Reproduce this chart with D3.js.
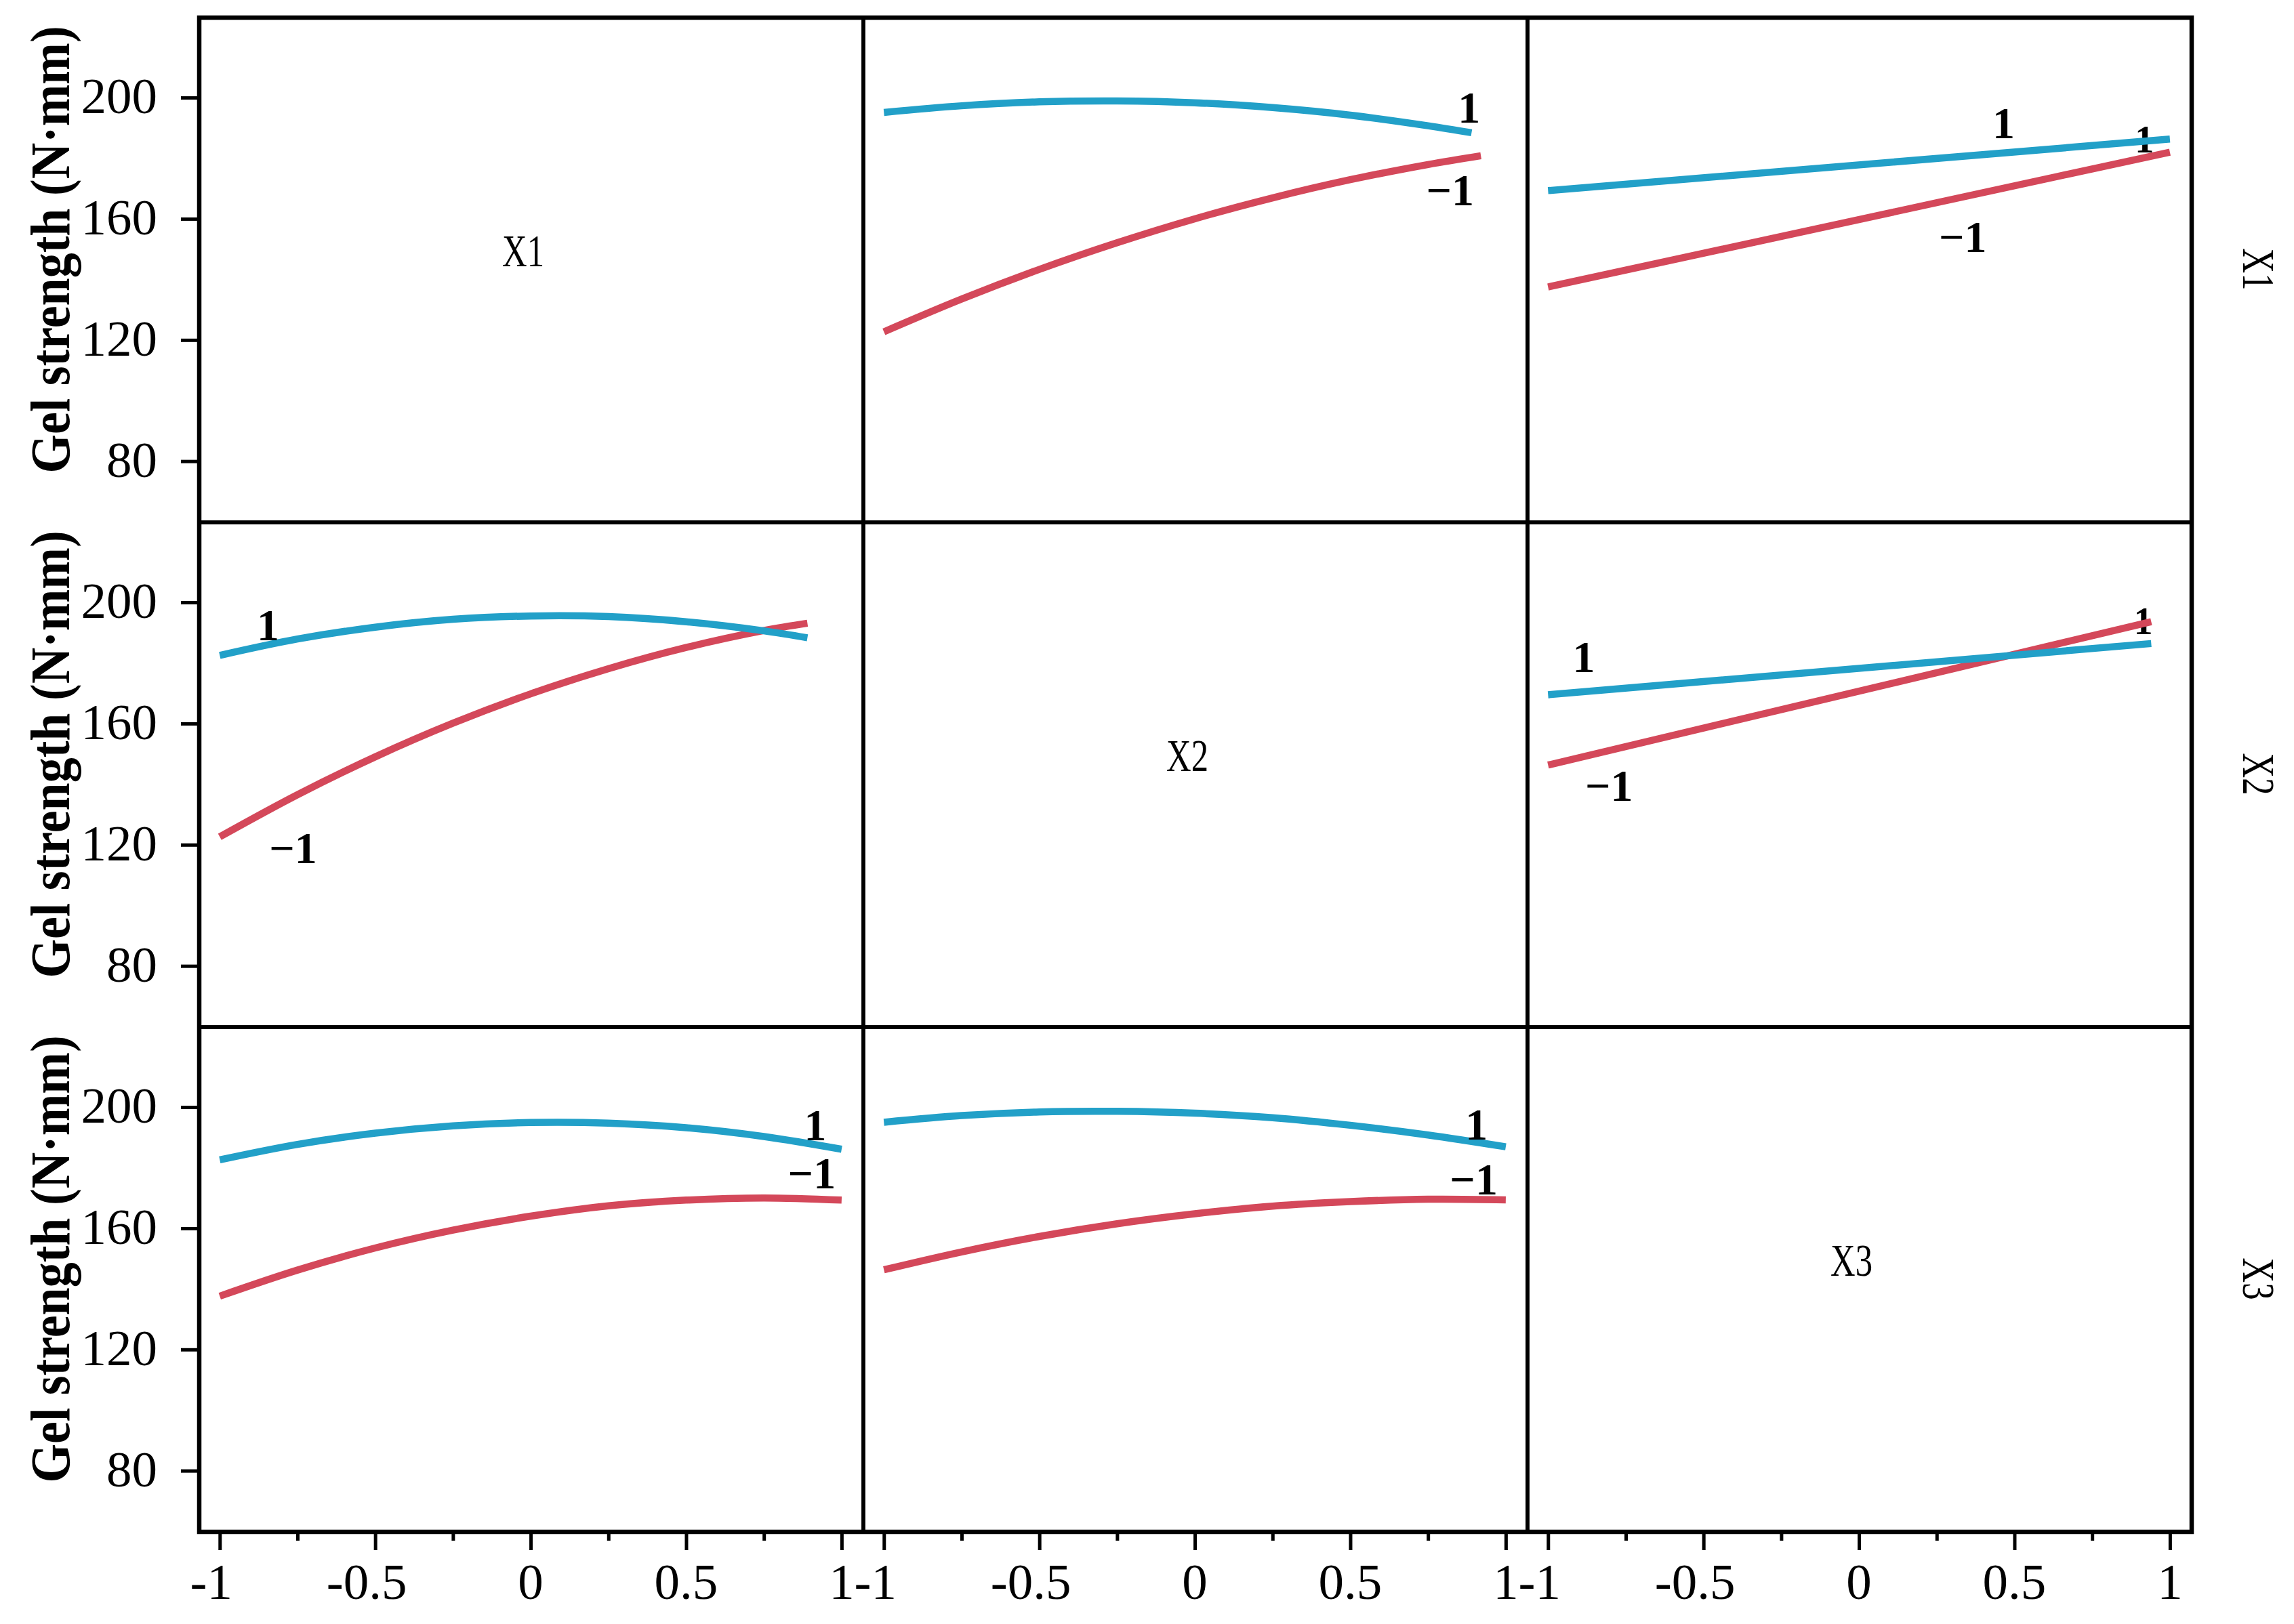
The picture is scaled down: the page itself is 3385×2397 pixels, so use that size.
<!DOCTYPE html>
<html><head><meta charset="utf-8">
<script src="https://cdn.jsdelivr.net/npm/d3@7"></script>
<style>body{margin:0;background:#fff}</style>
</head><body><svg id="c" width="3385" height="2397"></svg>
<script>
// ---------- data ----------
const factors = ["X1", "X2", "X3"];
const yTitle = "Gel strength (N\u00b7mm)";
const xTicks = [-1, -0.5, 0, 0.5, 1];
const xMinorTicks = [-0.75, -0.25, 0.25, 0.75];
const yTicks = [80, 120, 160, 200];
const levelLow = "\u22121";
const levelHigh = "1";

// row 0 / col 1
const r0c1LowX  = [-1, -0.75, -0.5, -0.25, 0, 0.25, 0.5, 0.75, 0.92];
const r0c1LowY  = [122.7, 133.5, 143.3, 152.1, 160.0, 166.9, 172.9, 177.9, 180.8];
const r0c1HighX = [-1, -0.75, -0.5, -0.25, 0, 0.25, 0.5, 0.75, 0.89];
const r0c1HighY = [195.1, 197.3, 198.6, 198.9, 198.3, 196.7, 194.2, 190.7, 188.4];
// row 0 / col 2
const r0c2LowX  = [-1, 1];
const r0c2LowY  = [137.5, 182.0];
const r0c2HighX = [-1, 1];
const r0c2HighY = [169.3, 186.3];
// row 1 / col 0
const r1c0LowX  = [-1, -0.75, -0.5, -0.25, 0, 0.25, 0.5, 0.75, 0.89];
const r1c0LowY  = [122.6, 136.5, 149.0, 160.1, 169.8, 178.1, 185.1, 190.7, 193.1];
const r1c0HighX = [-1, -0.75, -0.5, -0.25, 0, 0.25, 0.5, 0.75, 0.89];
const r1c0HighY = [182.5, 187.9, 191.8, 194.4, 195.5, 195.3, 193.6, 190.6, 188.3];
// row 1 / col 2
const r1c2LowX  = [-1, 0.94];
const r1c2LowY  = [146.3, 193.6];
const r1c2HighX = [-1, 0.94];
const r1c2HighY = [169.5, 186.4];
// row 2 / col 0
const r2c0LowX  = [-1, -0.75, -0.5, -0.25, 0, 0.25, 0.5, 0.75, 1];
const r2c0LowY  = [137.6, 146.2, 153.5, 159.4, 164.0, 167.4, 169.3, 170.0, 169.3];
const r2c0HighX = [-1, -0.75, -0.5, -0.25, 0, 0.25, 0.5, 0.75, 1];
const r2c0HighY = [182.6, 187.7, 191.4, 193.8, 194.9, 194.7, 193.2, 190.3, 186.1];
// row 2 / col 1
const r2c1LowX  = [-1, -0.75, -0.5, -0.25, 0, 0.25, 0.5, 0.75, 1];
const r2c1LowY  = [146.3, 152.2, 157.3, 161.5, 164.8, 167.3, 168.8, 169.6, 169.4];
const r2c1HighX = [-1, -0.75, -0.5, -0.25, 0, 0.25, 0.5, 0.75, 1];
const r2c1HighY = [195.0, 197.2, 198.4, 198.6, 198.0, 196.5, 194.0, 190.8, 186.9];

// curve labels in data units
const labelRows  = [0, 0, 0, 0, 1, 1, 1, 1, 2, 2, 2, 2];
const labelCols  = [1, 1, 2, 2, 0, 0, 2, 2, 0, 0, 1, 1];
const labelTexts = [levelHigh, levelLow, levelHigh, levelLow, levelHigh, levelLow, levelHigh, levelLow, levelHigh, levelLow, levelHigh, levelLow];
const labelX     = [0.882, 0.821, 0.465, 0.334, -0.845, -0.764, -0.885, -0.804, 0.915, 0.904, 0.906, 0.897];
const labelY     = [196.7, 169.4, 191.7, 154.1, 192.6, 118.9, 182.1, 139.6, 194.0, 178.3, 194.3, 176.3];
// partly hidden end labels (under the line)
const hiddenRows = [0, 1];
const hiddenCols = [2, 2];
const hiddenX    = [0.918, 0.914];
const hiddenY    = [186.2, 193.8];

// ---------- layout ----------
const W = 3385, H = 2397;
const plotLeft = 294, plotTop = 26, colW = 980, rowH = 745;
const xDomain = [-1.066, 1.07];
const yDomain = [59.8, 226.4];
const BLUE = "#22a0c8", RED = "#d4485a";
const FONT = "'Liberation Serif','Times New Roman',serif";

const svg = d3.select("#c");
svg.append("rect").attr("width", W).attr("height", H).attr("fill", "#fff");

const xs = [0, 1, 2].map(j => d3.scaleLinear().domain(xDomain).range([plotLeft + j * colW, plotLeft + (j + 1) * colW]));
const ys = [0, 1, 2].map(i => d3.scaleLinear().domain(yDomain).range([plotTop + (i + 1) * rowH, plotTop + i * rowH]));

const curves = [
  [0, 1, r0c1LowX, r0c1LowY, RED], [0, 1, r0c1HighX, r0c1HighY, BLUE],
  [0, 2, r0c2LowX, r0c2LowY, RED], [0, 2, r0c2HighX, r0c2HighY, BLUE],
  [1, 0, r1c0LowX, r1c0LowY, RED], [1, 0, r1c0HighX, r1c0HighY, BLUE],
  [1, 2, r1c2LowX, r1c2LowY, RED], [1, 2, r1c2HighX, r1c2HighY, BLUE],
  [2, 0, r2c0LowX, r2c0LowY, RED], [2, 0, r2c0HighX, r2c0HighY, BLUE],
  [2, 1, r2c1LowX, r2c1LowY, RED], [2, 1, r2c1HighX, r2c1HighY, BLUE]
];

// hidden labels first (drawn under lines)
hiddenRows.forEach((r, k) => {
  const c = hiddenCols[k];
  svg.append("text").attr("x", xs[c](hiddenX[k])).attr("y", ys[r](hiddenY[k]))
    .attr("text-anchor", "middle").attr("dominant-baseline", "central")
    .attr("font-family", FONT).attr("font-weight", "bold").attr("font-size", 56)
    .text(levelHigh);
});

// curves
curves.forEach(([r, c, X, Y, col]) => {
  const line = d3.line().x(d => xs[c](d[0])).y(d => ys[r](d[1])).curve(d3.curveCatmullRom.alpha(0.5));
  svg.append("path").attr("d", line(X.map((x, k) => [x, Y[k]])))
    .attr("fill", "none").attr("stroke", col).attr("stroke-width", 10.5).attr("stroke-linecap", "butt");
});

// curve labels
labelRows.forEach((r, k) => {
  const c = labelCols[k];
  svg.append("text").attr("x", xs[c](labelX[k])).attr("y", ys[r](labelY[k]))
    .attr("text-anchor", "middle").attr("dominant-baseline", "central")
    .attr("font-family", FONT).attr("font-weight", "bold").attr("font-size", 66)
    .text(labelTexts[k]);
});

// diagonal labels
factors.forEach((f, i) => {
  svg.append("text").attr("x", (xs[i].range()[0] + xs[i].range()[1]) / 2 - 12)
    .attr("y", (ys[i].range()[0] + ys[i].range()[1]) / 2 - 29)
    .attr("text-anchor", "middle").attr("dominant-baseline", "central")
    .attr("font-family", FONT).attr("font-size", 68)
    .attr("textLength", 62).attr("lengthAdjust", "spacingAndGlyphs")
    .text(f);
});

// right strip labels
factors.forEach((f, i) => {
  const cy = (ys[i].range()[0] + ys[i].range()[1]) / 2 - 1;
  svg.append("text").attr("transform", `translate(3333,${cy}) rotate(90)`)
    .attr("text-anchor", "middle").attr("dominant-baseline", "central")
    .attr("font-family", FONT).attr("font-size", 68)
    .attr("textLength", 62).attr("lengthAdjust", "spacingAndGlyphs")
    .text(f);
});

// panel frames
for (let i = 0; i < 3; i++) for (let j = 0; j < 3; j++) {
  svg.append("rect").attr("x", plotLeft + j * colW).attr("y", plotTop + i * rowH)
    .attr("width", colW).attr("height", rowH)
    .attr("fill", "none").attr("stroke", "#000").attr("stroke-width", 5.5);
}
svg.append("rect").attr("x", plotLeft).attr("y", plotTop).attr("width", 3 * colW).attr("height", 3 * rowH)
  .attr("fill", "none").attr("stroke", "#000").attr("stroke-width", 6.5);

// y axes (left column)
ys.forEach((y, i) => {
  const g = svg.append("g").attr("transform", `translate(${plotLeft},0)`);
  g.call(d3.axisLeft(y).tickValues(yTicks).tickSize(27).tickPadding(0).tickFormat(d3.format("d")));
  g.select(".domain").remove();
  g.selectAll(".tick line").attr("stroke", "#000").attr("stroke-width", 5);
  g.selectAll(".tick text").attr("font-family", FONT).attr("font-size", 75).attr("fill", "#000")
    .attr("x", -62).attr("dy", "0.3em");
  const cy = (y.range()[0] + y.range()[1]) / 2 - 30;
  svg.append("text").attr("transform", `translate(74,${cy}) rotate(-90) scale(1,1.12)`)
    .attr("text-anchor", "middle").attr("dominant-baseline", "central")
    .attr("font-family", FONT).attr("font-weight", "bold").attr("font-size", 74)
    .text(yTitle);
});

// x axes (bottom)
const plotBottom = plotTop + 3 * rowH;
const measure = svg.append("text").attr("font-family", FONT).attr("font-size", 75).attr("visibility", "hidden");
function textW(s) { measure.text(s); return measure.node().getComputedTextLength(); }
xs.forEach((x, j) => {
  const g = svg.append("g").attr("transform", `translate(0,${plotBottom})`);
  g.call(d3.axisBottom(x).tickValues(xTicks).tickSize(27).tickFormat(""));
  g.select(".domain").remove();
  g.selectAll(".tick line").attr("stroke", "#000").attr("stroke-width", 5);
  const gm = svg.append("g").attr("transform", `translate(0,${plotBottom})`);
  gm.call(d3.axisBottom(x).tickValues(xMinorTicks).tickSize(13).tickFormat(""));
  gm.select(".domain").remove();
  gm.selectAll(".tick line").attr("stroke", "#000").attr("stroke-width", 5);
  xTicks.forEach(t => {
    const s = String(t);
    const abs = String(Math.abs(t));
    svg.append("text").attr("x", x(t) + textW(abs) / 2).attr("y", plotBottom + 99)
      .attr("text-anchor", "end").attr("font-family", FONT).attr("font-size", 75)
      .text(s);
  });
});
measure.remove();
</script></body></html>
